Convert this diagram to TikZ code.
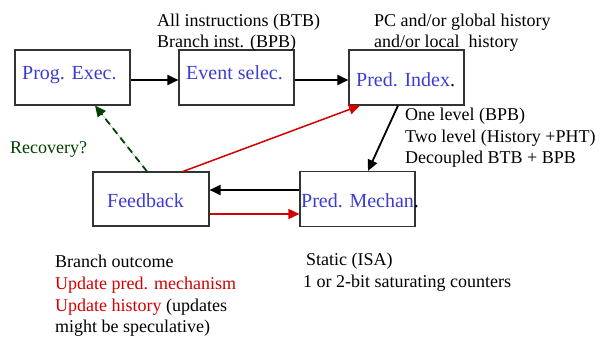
\documentclass[tikz,border=0pt]{standalone}
\usepackage{fontspec}
\setmainfont{Liberation Serif}
\newfontfamily\myserif{Liberation Serif}
\usetikzlibrary{arrows.meta}
\definecolor{lblblue}{RGB}{60,60,210}
\definecolor{updred}{RGB}{210,0,0}
\definecolor{recgreen}{RGB}{0,64,0}
\tikzset{
  box/.style={draw=black!80, line width=1.1pt, rectangle, minimum width=115pt, minimum height=55pt, inner sep=0pt},
  lbl/.style={anchor=base west, inner sep=0pt, text=lblblue, font=\myserif\fontsize{20}{24}\selectfont},
  note/.style={anchor=base west, inner sep=0pt, font=\myserif\fontsize{18}{21.5}\selectfont},
  flow/.style={line width=1.8pt, -{Triangle[length=11pt,width=10pt]}},
  redflow/.style={line width=1.5pt, draw=updred, -{Triangle[length=11pt,width=10pt]}, fill=updred},
  recflow/.style={line width=1.8pt, draw=recgreen, dashed, dash pattern=on 7pt off 5pt, -{Triangle[length=11pt,width=10pt]}, fill=recgreen}
}
\begin{document}
\begin{tikzpicture}[x=1pt,y=-1pt]
\useasboundingbox (0,0) rectangle (600,337);
% boxes
\node[box] (prog) at (72.5,77.5) {};
\node[box] (event) at (236.5,77.5) {};
\node[box] (pidx) at (406.5,77.5) {};
\node[box, minimum width=116pt, minimum height=54pt] (fb) at (151,199) {};
\node[box] (pmech) at (357.5,199) {};
% box labels
\node[lbl] (lprog) at (22,80) {Prog. Exec.};
\node[lbl] (levent) at (186,80) {Event selec.};
\node[lbl] (lpidx) at (356,86) {Pred. Index\textcolor{black}{.}};
\node[lbl] (lfb) at (107,207) {Feedback};
\node[lbl] (lpmech) at (301,207) {Pred. Mechan\textcolor{black}{.}};
% notes
\node[note] (n1) at (157,27) {All instructions (BTB)};
\node[note] (n2) at (157,48) {Branch inst. (BPB)};
\node[note] (n3) at (374,27) {PC and/or global history};
\node[note] (n4) at (374,48) {and/or local\ \ history};
\node[note] (n5) at (405,120) {One level (BPB)};
\node[note] (n6) at (405,142) {Two level (History +PHT)};
\node[note] (n7) at (405,163) {Decoupled BTB + BPB};
\node[note, text=recgreen] (n8) at (10,153) {Recovery?};
\node[note] (n9) at (55,267) {Branch outcome};
\node[note, text=updred] (n10) at (55,289) {Update pred. mechanism};
\node[note] (n11) at (55,311) {\textcolor{updred}{Update history} (updates};
\node[note] (n12) at (55,332) {might be speculative)};
\node[note] (n13) at (306,265) {Static (ISA)};
\node[note] (n14) at (303,287) {1 or 2-bit saturating counters};
% connectors
\draw[flow] ([yshift=-2.5pt]prog.east) -- ([yshift=-2.5pt]event.west);
\draw[flow] ([yshift=-2.5pt]event.east) -- ([yshift=-2.5pt]pidx.west);
\draw[flow] ([xshift=-8.5pt]pidx.south) -- ([xshift=10.5pt]pmech.north);
\draw[flow] ([yshift=9pt]pmech.west) -- ([yshift=9pt]fb.east);
\draw[redflow] ([yshift=-15pt]fb.east) -- ([yshift=-15pt]pmech.west);
\draw[redflow] ([xshift=32pt]fb.north) -- ([xshift=-46.5pt]pidx.south);
\draw[recflow] ([xshift=-4pt]fb.north) -- ([xshift=22.5pt]prog.south);
\end{tikzpicture}
\end{document}
